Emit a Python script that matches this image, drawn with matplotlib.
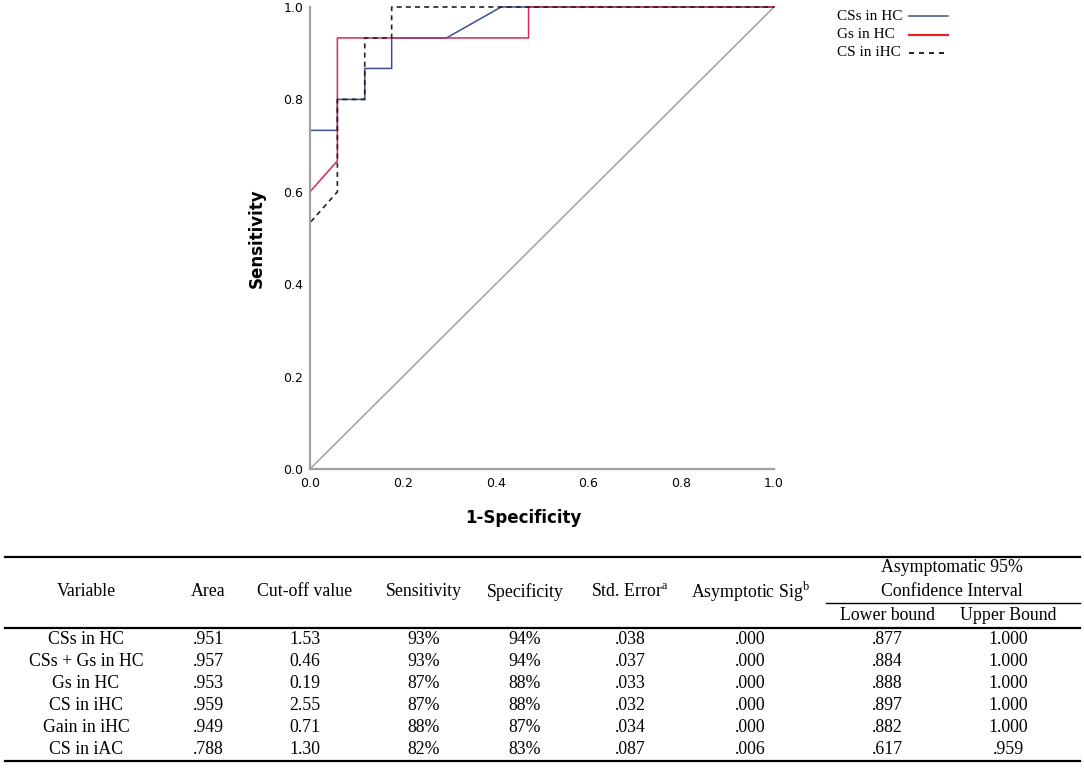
import numpy as np
import matplotlib
matplotlib.use("Agg")
import matplotlib.pyplot as plt

plt.rcParams['mathtext.fontset'] = 'custom'
plt.rcParams['mathtext.rm'] = 'Liberation Serif'

# --- ROC curves (1-specificity, sensitivity) ---
css_fpr = [0, 0, 0.059, 0.059, 0.118, 0.118, 0.176, 0.176, 0.294, 0.412, 1.0]
css_tpr = [0, 0.733, 0.733, 0.8, 0.8, 0.867, 0.867, 0.933, 0.933, 1.0, 1.0]
gs_fpr = [0, 0, 0.059, 0.059, 0.471, 0.471, 1.0]
gs_tpr = [0, 0.6, 0.667, 0.933, 0.933, 1.0, 1.0]
ihc_fpr = [0, 0, 0.059, 0.059, 0.118, 0.118, 0.176, 0.176, 1.0]
ihc_tpr = [0, 0.533, 0.6, 0.8, 0.8, 0.933, 0.933, 1.0, 1.0]
ref_line = [0, 1]
ticks = [0.0, 0.2, 0.4, 0.6, 0.8, 1.0]
legend_labels = ['CSs in HC', 'Gs in HC', 'CS in iHC']

# --- table ---
variables = ["CSs in HC", "CSs + Gs in HC", "Gs in HC", "CS in iHC", "Gain in iHC", "CS in iAC"]
area = [".951", ".957", ".953", ".959", ".949", ".788"]
cutoff = ["1.53", "0.46", "0.19", "2.55", "0.71", "1.30"]
sensitivity = ["93%", "93%", "87%", "87%", "88%", "82%"]
specificity = ["94%", "94%", "88%", "88%", "87%", "83%"]
std_error = [".038", ".037", ".033", ".032", ".034", ".087"]
asym_sig = [".000", ".000", ".000", ".000", ".000", ".006"]
lower = [".877", ".884", ".888", ".897", ".882", ".617"]
upper = ["1.000", "1.000", "1.000", "1.000", "1.000", ".959"]

headers = ["Variable", "Area", "Cut-off value", "Sensitivity", "Specificity",
           "Std. Error$^{\\mathrm{a}}$", "Asymptotic Sig$^{\\mathrm{b}}$"]
columns = [variables, area, cutoff, sensitivity, specificity, std_error, asym_sig, lower, upper]

blue = '#3d4f8f'
red = '#d42a55'
grey = '#a0a0a0'
serif = 'Liberation Serif'

W, H = 1084, 770
fig = plt.figure(figsize=(W / 100, H / 100), dpi=100)

ax = fig.add_axes([310 / W, 1 - 469 / H, 464 / W, 462 / H])
ax.plot(ref_line, ref_line, color=grey, lw=1.1, clip_on=False)
ax.plot(css_fpr, css_tpr, color=blue, lw=1.1, clip_on=False)
ax.plot(gs_fpr, gs_tpr, color=red, lw=1.1, clip_on=False)
ax.plot(ihc_fpr, ihc_tpr, color='#222222', lw=1.2, ls=(0, (3, 2.5)), clip_on=False)
ax.set_xlim(0, 1)
ax.set_ylim(0, 1)
ax.set_xticks(ticks)
ax.set_yticks(ticks)
ax.set_xticklabels(['%.1f' % t for t in ticks])
ax.set_yticklabels(['%.1f' % t for t in ticks])
ax.tick_params(length=0, labelsize=9)
ax.tick_params(axis='x', pad=6)
ax.tick_params(axis='y', pad=5)
for s in ['top', 'right']:
    ax.spines[s].set_visible(False)
for s in ['left', 'bottom']:
    ax.spines[s].set_color(grey)
    ax.spines[s].set_linewidth(1.6)
ax.text(0.459, -0.106, '1-Specificity', transform=ax.transAxes, ha='center', va='center',
        fontsize=12, fontweight='bold')
ax.text(-0.114, 0.5, 'Sensitivity', transform=ax.transAxes, ha='center', va='center',
        fontsize=12, fontweight='bold', rotation=90)

# --- overlay in pixel coordinates: legend and table ---
tab = fig.add_axes([0, 0, 1, 1], zorder=-1)
tab.set_xlim(0, W)
tab.set_ylim(H, 0)
tab.axis('off')

# legend: text left aligned, sample line to the right
leg_styles = [dict(color=blue, lw=1.1),
              dict(color='#e0202a', lw=1.6),
              dict(color='black', lw=1.2, ls=(0, (3, 3)))]
for i, (lab, st) in enumerate(zip(legend_labels, leg_styles)):
    y = 16 + i * 18.5
    tab.text(837, y, lab, ha='left', va='center', family=serif, fontsize=11)
    tab.plot([909, 948], [y, y], **st)

col_x = [86, 208, 305, 424, 525, 630, 750, 887, 1008]
row_y = [640, 662, 684, 706, 728, 750]
fs = 12.8

tab.plot([5, 1080], [557, 557], color='black', lw=1.6)
tab.plot([5, 1080], [628, 628], color='black', lw=1.6)
tab.plot([5, 1080], [761, 761], color='black', lw=1.6)
tab.plot([826, 1080], [603, 603], color='black', lw=1.0)

for x, h in zip(col_x, headers):
    tab.text(x, 592, h, ha='center', va='center', family=serif, fontsize=fs)
tab.text(952, 568, 'Asymptomatic 95%', ha='center', va='center', family=serif, fontsize=fs)
tab.text(952, 591, 'Confidence Interval', ha='center', va='center', family=serif, fontsize=fs)
tab.text(col_x[7], 616, 'Lower bound', ha='center', va='center', family=serif, fontsize=fs)
tab.text(col_x[8], 616, 'Upper Bound', ha='center', va='center', family=serif, fontsize=fs)

for x, col in zip(col_x, columns):
    for y, v in zip(row_y, col):
        tab.text(x, y, v, ha='center', va='center', family=serif, fontsize=fs)

fig.savefig('out.png', dpi=100)
